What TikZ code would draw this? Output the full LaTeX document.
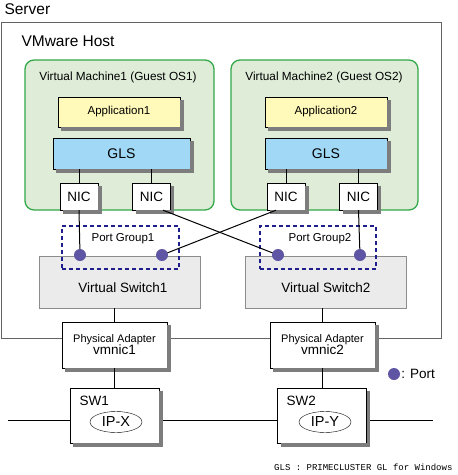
\documentclass[tikz,border=0pt]{standalone}
\usepackage{fontspec}
\setmainfont{Liberation Sans}
\setmonofont{Liberation Mono}
\usetikzlibrary{shapes.geometric}

\definecolor{vmgreen}{RGB}{50,168,72}
\definecolor{vmfill}{RGB}{222,236,216}
\definecolor{appfill}{RGB}{255,250,185}
\definecolor{glsfill}{RGB}{160,216,245}
\definecolor{portcol}{RGB}{95,85,165}
\definecolor{pgcol}{RGB}{30,30,140}
\definecolor{vswfill}{RGB}{235,235,235}
\definecolor{framecol}{RGB}{100,100,100}
\definecolor{shadowcol}{RGB}{125,125,125}

% L-shaped drop shadow right of and below a box
\newcommand{\dropshade}[1]{%
    \fill[shadowcol] ([shift={(3.5pt,-0.2pt)}]#1.south west) rectangle ([shift={(3.7pt,-3.7pt)}]#1.south east);
    \fill[shadowcol] ([shift={(0.2pt,-3.5pt)}]#1.north east) rectangle ([shift={(3.7pt,-3.7pt)}]#1.south east);
}

\begin{document}
\begin{tikzpicture}[x=1pt, y=-1pt,
    vm/.style={rectangle, rounded corners=9pt, draw=vmgreen, line width=1.3pt, fill=vmfill, minimum height=150pt},
    app/.style={rectangle, draw, fill=appfill, minimum width=122pt, minimum height=30pt, font=\fontsize{11.5}{13}\selectfont},
    gls/.style={rectangle, draw, fill=glsfill, minimum height=31pt, font=\fontsize{14}{16}\selectfont},
    nic/.style={rectangle, draw, fill=white, minimum width=38pt, minimum height=27pt, inner sep=0pt, font=\fontsize{13.5}{15}\selectfont},
    portgroup/.style={rectangle, draw=pgcol, dash pattern=on 4pt off 3pt, line width=1.1pt, minimum width=117pt, minimum height=43pt},
    vswitch/.style={rectangle, draw=black!45, fill=vswfill, minimum width=161pt, minimum height=52pt},
    port/.style={circle, fill=portcol, minimum size=12pt, inner sep=0pt},
    adapter/.style={rectangle, draw, fill=white, minimum width=105pt, minimum height=46pt, align=center},
    swbox/.style={rectangle, draw, fill=white, minimum width=89pt, minimum height=55pt},
    ipaddr/.style={ellipse, draw, fill=white, minimum width=52pt, minimum height=21pt, inner sep=0pt, font=\fontsize{14.5}{16}\selectfont},
    link/.style={line width=1pt}
]
    \useasboundingbox (0,0) rectangle (458,475);

    % Server and host
    \node[anchor=west, font=\fontsize{15.5}{18}\selectfont] (srvlabel) at (1,9) {Server};
    \draw[framecol, line width=1pt] (1,22) rectangle (441,338);
    \node[anchor=west, font=\fontsize{15.5}{18}\selectfont] (hostlabel) at (18,41) {VMware Host};

    % Virtual machines
    \node[vm, minimum width=189pt] (vm1) at (119.5,135) {};
    \node[font=\fontsize{11.8}{13}\selectfont] (vm1label) at (118,77) {Virtual Machine1 (Guest OS1)};
    \node[vm, minimum width=187pt] (vm2) at (324.5,135) {};
    \node[font=\fontsize{11.8}{13}\selectfont] (vm2label) at (324,77) {Virtual Machine2 (Guest OS2)};

    \node[app] (app1) at (119,112) {Application1};
    \node[app] (app2) at (326,112) {Application2};
    \node[gls, minimum width=137pt] (gls1) at (121.5,153.5) {GLS};
    \node[gls, minimum width=122pt] (gls2) at (326,153.5) {GLS};

    \node[nic] (nic1) at (79,196.5) {NIC};
    \node[nic] (nic2) at (151.5,196.5) {NIC};
    \node[nic] (nic3) at (286,196.5) {NIC};
    \node[nic] (nic4) at (358.5,196.5) {NIC};

    \foreach \b in {app1, app2, gls1, gls2, nic1, nic2, nic3, nic4} {
        \dropshade{\b}
    }

    \foreach \g/\n in {gls1/nic1, gls1/nic2, gls2/nic3, gls2/nic4}
        \draw[link] (\n.north) -- (\n.north |- \g.south);

    % Virtual switches and port groups
    \node[vswitch] (vsw1) at (119.5,282) {};
    \node[font=\fontsize{13.5}{15}\selectfont] (vsw1label) at (123,288) {Virtual Switch1};
    \node[vswitch] (vsw2) at (325.5,282) {};
    \node[font=\fontsize{13.5}{15}\selectfont] (vsw2label) at (326,288) {Virtual Switch2};

    \node[portgroup] (pg1) at (120.5,247.5) {};
    \node[font=\fontsize{11.5}{13}\selectfont] (pg1label) at (123,239) {Port Group1};
    \node[portgroup, minimum width=116pt] (pg2) at (318,247.5) {};
    \node[font=\fontsize{11.5}{13}\selectfont] (pg2label) at (320,239) {Port Group2};

    \coordinate (p1pos) at (80,255);
    \coordinate (p2pos) at (162,255);
    \coordinate (p3pos) at (278,255);
    \coordinate (p4pos) at (360,255);

    \draw[link] (nic1.south) -- (p1pos);
    \draw[link] ([xshift=11.5pt]nic2.south) -- (p3pos);
    \draw[link] ([xshift=-10pt]nic3.south) -- (p2pos);
    \draw[link] (nic4.south) -- (p4pos);

    \foreach \p in {1,...,4}
        \node[port] (port\p) at (p\p pos) {};

    % Physical adapters
    \node[adapter] (pa1) at (114.5,345) {\fontsize{11}{13}\selectfont Physical Adapter\\[-1pt]\fontsize{13.5}{15}\selectfont vmnic1};
    \node[adapter] (pa2) at (322.5,345) {\fontsize{11}{13}\selectfont Physical Adapter\\[-1pt]\fontsize{13.5}{15}\selectfont vmnic2};
    \dropshade{pa1}
    \dropshade{pa2}
    \draw[link] (pa1.north) -- (pa1.north |- vsw1.south);
    \draw[link] (pa2.north) -- (pa2.north |- vsw2.south);

    % Legend
    \node[port] (legport) at (394,374) {};
    \node[anchor=west, inner sep=1pt, font=\fontsize{13.5}{15}\selectfont] (legtext) at (legport.east) {: Port};

    % Physical switches and network
    \coordinate (netL) at (8,420);
    \coordinate (netR) at (433,420);
    \draw[link] (netL) -- (netR);

    \node[swbox] (sw1) at (114.5,415.5) {};
    \node[swbox] (sw2) at (322,415.5) {};
    \dropshade{sw1}
    \dropshade{sw2}
    \node[anchor=west, font=\fontsize{13.5}{15}\selectfont] (sw1label) at (76,401) {SW1};
    \node[anchor=west, font=\fontsize{13.5}{15}\selectfont] (sw2label) at (283,401) {SW2};
    \node[ipaddr] (ipx) at (116,422) {IP-X};
    \node[ipaddr] (ipy) at (325,422) {IP-Y};
    \draw[link] (sw1.north) -- (sw1.north |- pa1.south);
    \draw[link] (sw2.north) -- (sw2.north |- pa2.south);

    % Footnote
    \node[anchor=east, font=\ttfamily\fontsize{9}{10}\selectfont] (note) at (456,467) {GLS : PRIMECLUSTER GL for Windows};
\end{tikzpicture}
\end{document}
